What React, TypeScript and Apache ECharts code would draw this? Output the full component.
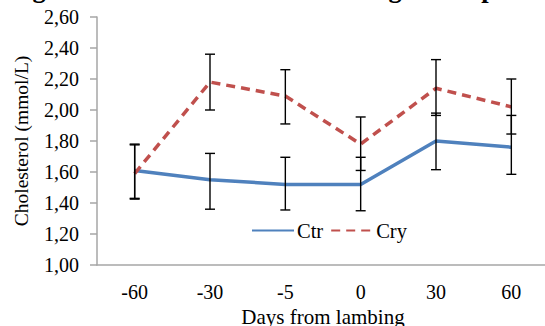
import React, { useEffect, useRef } from "react";
import * as echarts from "echarts";

const categories = ["-60", "-30", "-5", "0", "30", "60"];
const ctrValues = [1.61, 1.55, 1.52, 1.52, 1.8, 1.76];
const ctrLow = [1.43, 1.36, 1.355, 1.35, 1.615, 1.585];
const ctrHigh = [1.78, 1.72, 1.695, 1.695, 1.98, 1.965];
const cryValues = [1.59, 2.18, 2.09, 1.78, 2.14, 2.02];
const cryLow = [1.425, 2.0, 1.91, 1.61, 1.965, 1.845];
const cryHigh = [1.775, 2.36, 2.26, 1.955, 2.325, 2.2];
const yTicks = { min: 1, max: 2.6, interval: 0.2 };
const titleText = "Figure 1. Blood Cholesterol during whole period";
const yName = "Cholesterol (mmol/L)";
const xName = "Days from lambing";

const FONT = "Liberation Serif";

export default function App() {
  const ref = useRef<HTMLDivElement>(null);
  useEffect(() => {
    document.body.style.margin = "0";
    const chart = echarts.init(ref.current!, null, { renderer: "svg" });
    const errData: number[][] = [];
    categories.forEach((_, i) => {
      errData.push([i, ctrLow[i], ctrHigh[i]]);
      errData.push([i, cryLow[i], cryHigh[i]]);
    });
    chart.setOption({
      animation: false,
      textStyle: { fontFamily: FONT, color: "#000" },
      graphic: [
        {
          type: "text",
          x: 9,
          y: -12,
          style: {
            text: titleText,
            font: `bold 26.5px ${FONT}`,
            fill: "#000",
            align: "left",
            verticalAlign: "middle",
          },
        },
      ],
      legend: {
        left: 251,
        top: 220,
        padding: 0,
        itemWidth: 42,
        itemHeight: 10,
        itemGap: 7,
        itemStyle: { opacity: 0 },
        textStyle: { fontFamily: FONT, fontSize: 20.5, color: "#000", padding: [0, 0, 0, -2] },
        data: ["Ctr", "Cry"],
      },
      grid: {
        left: 97,
        top: 17,
        width: 452,
        height: 248,
        containLabel: false,
        outerBoundsMode: "none",
      },
      xAxis: {
        type: "category",
        data: categories,
        boundaryGap: true,
        name: xName,
        nameLocation: "middle",
        nameGap: 40,
        nameTextStyle: { fontFamily: FONT, fontSize: 21, color: "#000" },
        axisLine: { lineStyle: { color: "#a6a6a6", width: 1.5 } },
        axisTick: { length: 7, lineStyle: { color: "#a6a6a6", width: 1.5 } },
        axisLabel: { fontFamily: FONT, fontSize: 20, color: "#000", margin: 17 },
      },
      yAxis: {
        type: "value",
        min: yTicks.min,
        max: yTicks.max,
        interval: yTicks.interval,
        name: yName,
        nameLocation: "middle",
        nameRotate: 90,
        nameGap: 66,
        nameTextStyle: { fontFamily: FONT, fontSize: 19.5, color: "#000" },
        splitLine: { show: false },
        axisLine: { show: true, lineStyle: { color: "#a6a6a6", width: 1.5 } },
        axisTick: { show: true, length: 7, lineStyle: { color: "#a6a6a6", width: 1.5 } },
        axisLabel: {
          fontFamily: FONT,
          fontSize: 20,
          color: "#000",
          margin: 18,
          formatter: (v: number) => v.toFixed(2).replace(".", ","),
        },
      },
      series: [
        {
          name: "Ctr",
          type: "line",
          data: ctrValues,
          symbol: "none",
          lineStyle: { color: "#4F81BD", width: 3.5 },
          itemStyle: { color: "#4F81BD" },
          z: 2,
        },
        {
          name: "Cry",
          type: "line",
          data: cryValues,
          symbol: "none",
          lineStyle: { color: "#C0504D", width: 3.5, type: [9, 6] },
          itemStyle: { color: "#C0504D" },
          z: 2,
        },
        {
          type: "custom",
          z: 3,
          silent: true,
          data: errData,
          renderItem: (params: any, api: any) => {
            const x = api.value(0);
            const lo = api.coord([x, api.value(1)]);
            const hi = api.coord([x, api.value(2)]);
            const hw = 5;
            const style = { stroke: "#000", lineWidth: 1.4 };
            return {
              type: "group",
              children: [
                { type: "line", shape: { x1: lo[0], y1: lo[1], x2: hi[0], y2: hi[1] }, style },
                { type: "line", shape: { x1: lo[0] - hw, y1: lo[1], x2: lo[0] + hw, y2: lo[1] }, style },
                { type: "line", shape: { x1: hi[0] - hw, y1: hi[1], x2: hi[0] + hw, y2: hi[1] }, style },
              ],
            };
          },
        },
      ],
    });
    return () => chart.dispose();
  }, []);
  return <div ref={ref} style={{ width: 545, height: 326 }} />;
}
